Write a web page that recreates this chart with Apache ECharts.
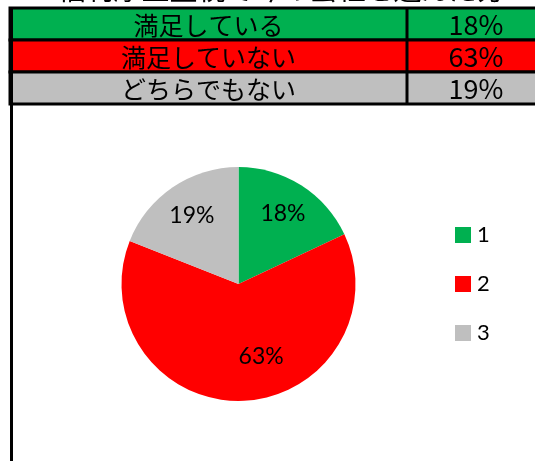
<!DOCTYPE html>
<html><head><meta charset="utf-8">
<script src="https://cdn.jsdelivr.net/npm/echarts@6/dist/echarts.min.js"></script>
<style>html,body{margin:0;padding:0;background:#fff;}#c{width:535px;height:461px;}</style>
</head><body><div id="c"></div>
<script>
// ---- data ----
const titleText = '・福利厚生重視で今の会社を選んだ方';
const categories = ['満足している', '満足していない', 'どちらでもない'];
const tableValues = ['18%', '63%', '19%'];
const pieNames = ['1', '2', '3'];
const pieValues = [18, 63, 19];
const colors = ['#00B050', '#FF0000', '#BFBFBF'];

const chart = echarts.init(document.getElementById('c'), null, {renderer: 'canvas'});

// table graphics built from arrays
const rowTop = 8, rowH = 32, leftX = 10, divX = 407, rightX = 545;
const g = [];
g.push({type: 'text', left: 'center', top: -25, style: {text: titleText, font: '28px "Noto Sans CJK JP"', fill: '#000'}});
categories.forEach((c, i) => {
  const y = rowTop + i * rowH;
  g.push({type: 'rect', shape: {x: leftX, y: y, width: rightX - leftX, height: rowH}, style: {fill: colors[i], stroke: '#000', lineWidth: 3}});
  g.push({type: 'text', x: (leftX + divX) / 2, y: y + rowH / 2 + 1, style: {text: c, align: 'center', verticalAlign: 'middle', font: '25px "Noto Sans CJK JP"', fill: '#000'}});
  g.push({type: 'text', x: 476, y: y + rowH / 2 + 1, style: {text: tableValues[i], align: 'center', verticalAlign: 'middle', font: '27px "Noto Sans CJK JP"', fill: '#000'}});
});
g.push({type: 'line', shape: {x1: divX, y1: rowTop, x2: divX, y2: rowTop + rowH * categories.length}, style: {stroke: '#000', lineWidth: 3}});
g.push({type: 'line', shape: {x1: leftX + 1.5, y1: rowTop, x2: leftX + 1.5, y2: 470}, style: {stroke: '#000', lineWidth: 3}});

const pieData = pieNames.map((n, i) => ({name: n, value: pieValues[i], itemStyle: {color: colors[i]}}));
const labelData = pieNames.map((n, i) => ({
  name: n, value: pieValues[i],
  label: i === 1 ? {offset: [20, -10]} : {}
}));

chart.setOption({
  animation: false,
  graphic: g,
  legend: {
    orient: 'vertical', left: 455, top: 224, padding: 0,
    icon: 'rect', itemWidth: 16, itemHeight: 16, itemGap: 27,
    textStyle: {fontFamily: 'Lato', fontSize: 22, color: '#000', padding: [0, 0, 0, 1]},
    data: pieNames.map((n, i) => ({name: n, itemStyle: {color: colors[i]}}))
  },
  series: [
    {
      type: 'pie', center: [238.5, 284], radius: [0, 117], startAngle: 90, clockwise: true,
      label: {show: false}, labelLine: {show: false}, silent: true,
      data: pieData
    },
    {
      type: 'pie', center: [238.5, 284], radius: [0, 160], startAngle: 90, clockwise: true,
      silent: true, legendHoverLink: false,
      itemStyle: {color: 'rgba(0,0,0,0)'},
      label: {show: true, position: 'inside', formatter: '{c}%', fontFamily: 'Lato', fontSize: 23, color: '#000'},
      labelLine: {show: false},
      data: labelData
    }
  ]
});
</script></body></html>
